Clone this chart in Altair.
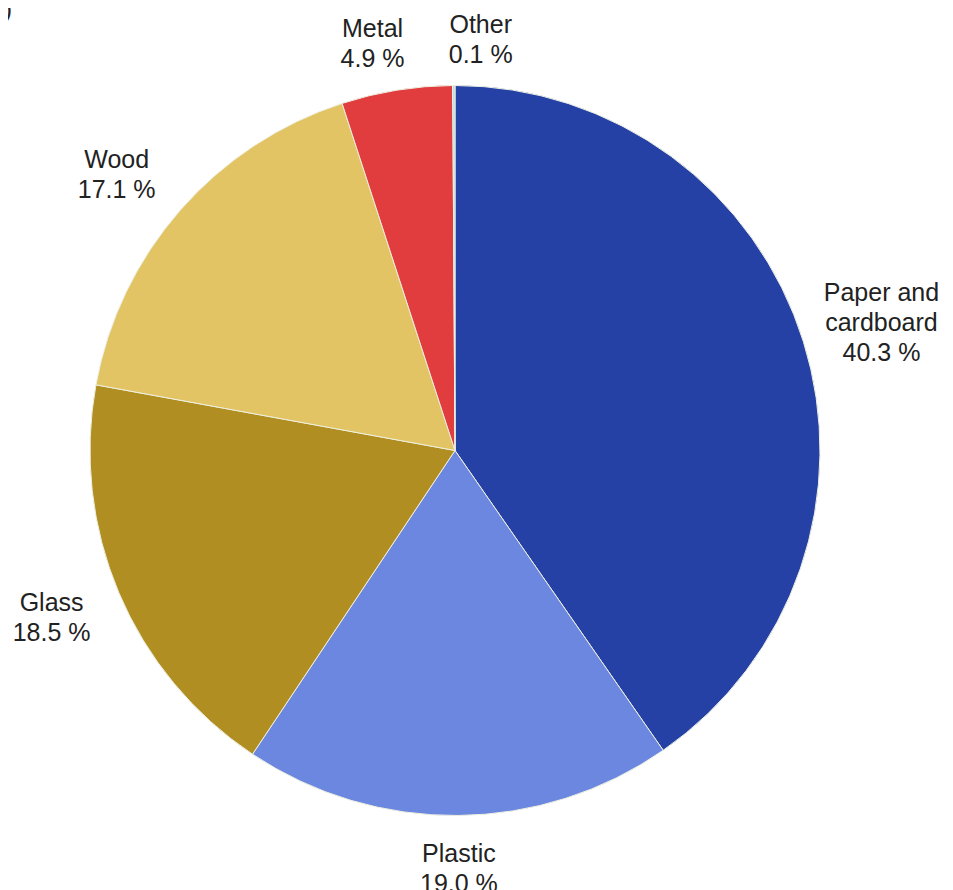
import altair as alt
import pandas as pd

categories = ["Paper and cardboard", "Plastic", "Glass", "Wood", "Metal", "Other"]
shares = [40.3, 19.0, 18.5, 17.1, 4.9, 0.1]
colors = ["#2541A6", "#6B87DF", "#B08E22", "#E2C464", "#E13C3E", "#A9DCEF"]

df = pd.DataFrame({"category": categories, "value": shares, "idx": list(range(len(categories)))})

CX, CY, R = 447, 442.5, 365
FONT = "Liberation Sans"
LH = 30

# label nudges (layout only)
nudge_x = "({'Other': 27, 'Metal': -16, 'Wood': -11, 'Glass': 6})[datum.category] || 0"
nudge_y = "4 + (({'Wood': 7, 'Glass': -10, 'Paper and cardboard': 2})[datum.category] || 0)"

base = alt.Chart(df)

pie = base.mark_arc(outerRadius=R, stroke="#eef0e0", strokeWidth=1).encode(
    theta=alt.Theta("value:Q", stack=True),
    order=alt.Order("idx:Q"),
    color=alt.Color("category:N", scale=alt.Scale(domain=categories, range=colors), legend=None),
    x=alt.value(CX),
    y=alt.value(CY),
)

labels = base.transform_joinaggregate(
    total="sum(value)"
).transform_window(
    cum="sum(value)", sort=[alt.SortField("idx")]
).transform_calculate(
    mid="2*PI*(datum.cum - datum.value/2)/datum.total",
    label="(datum.category == 'Paper and cardboard' ? 'Paper and|cardboard' : datum.category) + '|' + format(datum.value, '.1f') + ' %'",
).transform_calculate(
    r="450 - 35*pow(cos(datum.mid),2)",
    nlines="length(split(datum.label, '|'))",
    nx=nudge_x,
    ny=nudge_y,
).transform_calculate(
    lx=f"{CX} + datum.r*sin(datum.mid) + datum.nx",
    ly=f"{CY} - datum.r*cos(datum.mid) + datum.ny - (datum.nlines - 1)*{LH}/2",
).mark_text(
    font=FONT, fontSize=25, lineBreak="|", lineHeight=LH, color="#222222",
    align="center", baseline="middle",
).encode(
    x=alt.X("lx:Q", scale=None, axis=None),
    y=alt.Y("ly:Q", scale=None, axis=None),
    text="label:N",
)

corner = alt.Chart(pd.DataFrame({"t": ["b)"]})).mark_text(
    font=FONT, fontSize=25, align="right", baseline="top", color="#222222"
).encode(x=alt.value(4), y=alt.value(-10), text="t:N")

chart = alt.layer(pie, labels, corner).properties(
    width=937, height=882, padding=0, autosize=alt.AutoSizeParams(type="none")
).configure_view(stroke=None)

chart.save("out.html", embed_options={"renderer": "svg", "actions": False})
